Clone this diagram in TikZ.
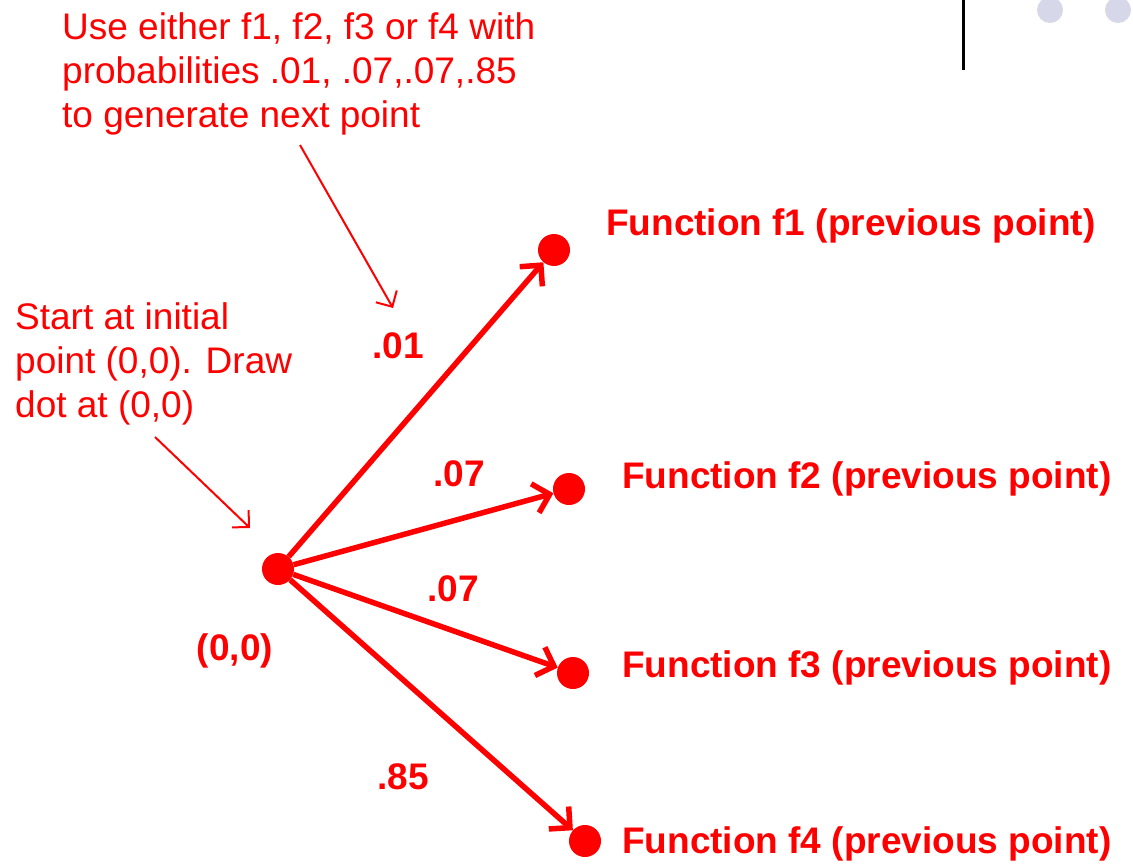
\documentclass[tikz,border=0pt]{standalone}
\usepackage{fontspec}
\setmainfont{Liberation Sans}
\usetikzlibrary{arrows.meta}
\definecolor{pred}{RGB}{255,0,0}
\definecolor{lav}{RGB}{214,216,234}
\begin{document}
\begin{tikzpicture}[x=1pt,y=-1pt,
  dot/.style={circle,fill=pred,inner sep=0pt,minimum size=32pt},
  bigarrow/.style={draw=pred,line width=5.5pt,-{Straight Barb[length=15pt,width=30pt,line width=5.5pt]}},
  thinarrow/.style={draw=pred,line width=2pt,-{Straight Barb[length=12pt,width=24pt,line width=2pt]}},
  note/.style={text=pred,font=\fontsize{37}{44}\selectfont,align=left,inner sep=0pt},
  blabel/.style={text=pred,font=\fontsize{37}{44}\selectfont\bfseries,inner sep=0pt}]
\useasboundingbox (0,0) rectangle (1133,867);
% decorations top right
\draw[line width=3pt,black] (963,0) -- (963,70);
\fill[lav] (1050,10) circle (13);
\fill[lav] (1118,10) circle (13);
% dots
\node[dot] (o) at (278,569) {};
\node[dot] (f1) at (554,250) {};
\node[dot] (f2) at (569,489) {};
\node[dot] (f3) at (573,673) {};
\node[dot] (f4) at (585,841) {};
% arrows
\draw[bigarrow] (o) -- (f1);
\draw[bigarrow] (o) -- (f2);
\draw[bigarrow] (o) -- (f3);
\draw[bigarrow] (o) -- (f4);
% labels
\node[blabel,anchor=base west] (l1) at (606,235) {Function f1 (previous point)};
\node[blabel,anchor=base west] (l2) at (622,488) {Function f2 (previous point)};
\node[blabel,anchor=base west] (l3) at (622,677) {Function f3 (previous point)};
\node[blabel,anchor=base west] (l4) at (622,853) {Function f4 (previous point)};
\node[blabel,anchor=base] (p1) at (398,358) {.01};
\node[blabel,anchor=base] (p2) at (459,486) {.07};
\node[blabel,anchor=base] (p3) at (453,601) {.07};
\node[blabel,anchor=base] (p4) at (403,789) {.85};
\node[blabel,anchor=base] (z) at (235,660) {(0,0)};
% notes
\node[note,anchor=north west] (n1) at (62,12) {Use either f1, f2, f3 or f4 with\\probabilities .01, .07,.07,.85\\to generate next point};
\node[note,anchor=north west] (n2) at (15,302) {Start at initial\\point (0,0). Draw\\dot at (0,0)};
\coordinate (a1s) at (300,145);
\coordinate (a1e) at (393,308);
\coordinate (a2s) at (155,437);
\coordinate (a2e) at (250,528);
\draw[thinarrow] (a1s) -- (a1e);
\draw[thinarrow] (a2s) -- (a2e);
\end{tikzpicture}
\end{document}
